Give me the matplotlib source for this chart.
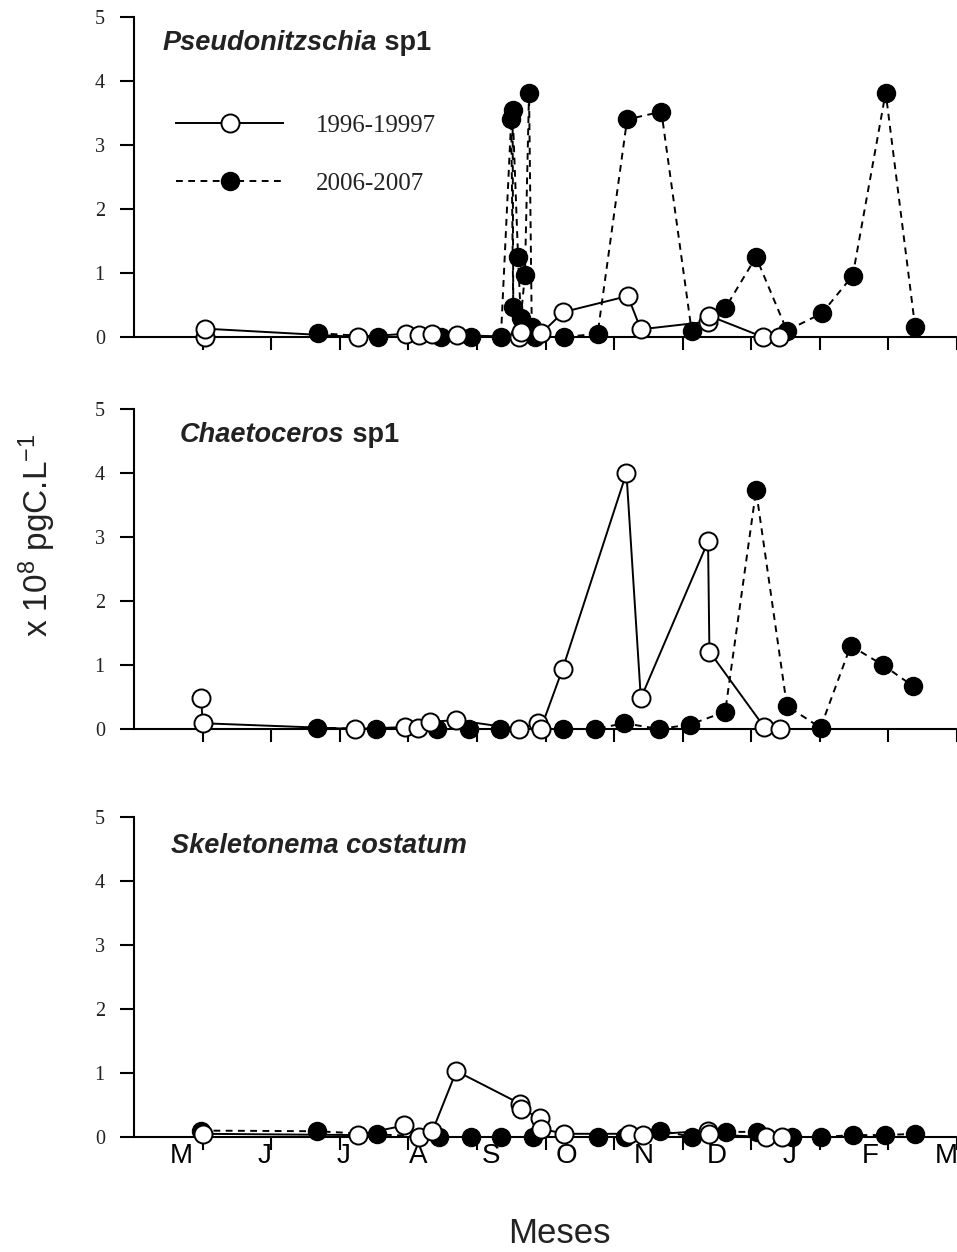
import matplotlib
matplotlib.use("Agg")
import matplotlib.pyplot as plt
from matplotlib.lines import Line2D

plt.rcParams["mathtext.fontset"] = "custom"
plt.rcParams["mathtext.rm"] = "Liberation Sans"
plt.rcParams["mathtext.it"] = "Liberation Sans:italic"
plt.rcParams["mathtext.bf"] = "Liberation Sans:bold"

# ---------------- data (x in months from first sampling tick) ----------------
months = ["M", "J", "J", "A", "S", "O", "N", "D", "J", "F", "M"]
month_label_pos = [-0.31, 0.90, 2.05, 3.14, 4.20, 5.30, 6.43, 7.50, 8.56, 9.74, 10.84]
x_ticks = list(range(0, 12))
y_ticks = [0, 1, 2, 3, 4, 5]

titles = [("Pseudonitzschia", " sp1"), ("Chaetoceros", " sp1"), ("Skeletonema costatum", "")]
series_labels = ["1996-19997", "2006-2007"]

# Pseudonitzschia sp1
p1_old_x = [0.04, 0.04, 2.26, 2.96, 3.16, 3.35, 3.71, 4.62, 4.64, 4.94, 5.26, 6.20, 6.39, 7.37, 7.39, 8.17, 8.40]
p1_old_y = [0.0, 0.13, 0.0, 0.05, 0.03, 0.04, 0.03, 0.0, 0.08, 0.06, 0.39, 0.64, 0.12, 0.24, 0.33, 0.0, 0.0]
p1_new_x = [1.69, 2.56, 3.47, 3.92, 4.35, 4.50, 4.53, 4.52, 4.60, 4.64, 4.70, 4.76, 4.80, 4.84, 5.27, 5.76,
            6.19, 6.69, 7.13, 7.62, 8.07, 8.52, 9.03, 9.48, 9.96, 10.39]
p1_new_y = [0.06, 0.0, 0.0, 0.0, 0.0, 3.40, 0.47, 3.55, 1.25, 0.30, 0.97, 3.82, 0.15, 0.0, 0.0, 0.05,
            3.40, 3.52, 0.10, 0.45, 1.25, 0.10, 0.37, 0.96, 3.82, 0.15]

# Chaetoceros sp1
p2_old_x = [-0.02, 0.0, 2.22, 2.95, 3.14, 3.32, 3.69, 4.61, 4.89, 4.93, 5.25, 6.18, 6.39, 7.37, 7.39, 8.19, 8.42]
p2_old_y = [0.49, 0.09, 0.0, 0.03, 0.01, 0.11, 0.14, 0.0, 0.09, 0.0, 0.94, 4.0, 0.48, 2.93, 1.21, 0.03, 0.0]
p2_new_x = [1.67, 2.53, 3.42, 3.89, 4.33, 5.25, 5.72, 6.15, 6.66, 7.11, 7.62, 8.07, 8.52, 9.01, 9.45, 9.92, 10.36]
p2_new_y = [0.02, 0.0, 0.0, 0.0, 0.0, 0.0, 0.0, 0.09, 0.0, 0.07, 0.27, 3.73, 0.36, 0.02, 1.30, 1.0, 0.67]

# Skeletonema costatum
p3_old_x = [0.0, 2.26, 2.94, 3.15, 3.35, 3.70, 4.63, 4.65, 4.92, 4.94, 5.27, 6.22, 6.42, 7.37, 7.39, 8.21, 8.45]
p3_old_y = [0.05, 0.03, 0.18, 0.0, 0.09, 1.03, 0.52, 0.44, 0.29, 0.13, 0.05, 0.05, 0.03, 0.10, 0.04, 0.0, 0.0]
p3_new_x = [-0.02, 1.67, 2.55, 3.44, 3.91, 4.35, 4.82, 5.76, 6.16, 6.67, 7.14, 7.63, 8.08, 8.59, 9.02, 9.49, 9.95, 10.39]
p3_new_y = [0.10, 0.09, 0.04, 0.0, 0.0, 0.0, 0.0, 0.0, 0.0, 0.10, 0.0, 0.08, 0.08, 0.0, 0.0, 0.03, 0.03, 0.05]

panels = [
    (p1_old_x, p1_old_y, p1_new_x, p1_new_y),
    (p2_old_x, p2_old_y, p2_new_x, p2_new_y),
    (p3_old_x, p3_old_y, p3_new_x, p3_new_y),
]

# ---------------- figure ----------------
W, H = 957, 1252
fig = plt.figure(figsize=(W / 100, H / 100), dpi=100)

serif = ["Liberation Serif", "DejaVu Serif"]
sans = ["Liberation Sans", "DejaVu Sans"]

ax_left_px, ax_right_px = 134, 957
panel_px = [(17, 337), (409, 729), (817, 1137)]  # (top, bottom) in pixels
title_pos = [(0.035, 0.897), (0.056, 0.897), (0.045, 0.8875)]

old_style = dict(color="black", lw=1.4, ls="-", marker="o", ms=13,
                 mfc="white", mec="black", mew=1.4, clip_on=False, zorder=4)
new_style = dict(color="black", lw=1.4, ls=(0, (3.5, 2.8)), marker="o", ms=13,
                 mfc="black", mec="black", mew=1.0, clip_on=False, zorder=3)

axes = []
for i, ((top, bot), (ox, oy, nx, ny)) in enumerate(zip(panel_px, panels)):
    ax = fig.add_axes([ax_left_px / W, 1 - bot / H, (ax_right_px - ax_left_px) / W, (bot - top) / H])
    ax.plot(nx, ny, **new_style)
    ax.plot(ox, oy, **old_style)
    ax.set_xlim(-1.0, 11.0)
    ax.set_ylim(0, 5)
    ax.set_xticks(x_ticks)
    ax.set_xticklabels([])
    ax.set_yticks(y_ticks)
    ax.set_yticklabels([str(v) for v in y_ticks], family=serif, fontsize=14.5, color="#222222")
    for s in ["top", "right"]:
        ax.spines[s].set_visible(False)
    for s in ["left", "bottom"]:
        ax.spines[s].set_linewidth(1.5)
    ax.tick_params(axis="y", direction="out", length=10, width=1.5, pad=11)
    ax.tick_params(axis="x", direction="out", length=9, width=1.5)
    ax.patch.set_alpha(0)

    name, suffix = titles[i]
    tx, ty = title_pos[i]
    t1 = ax.text(tx, ty, name, transform=ax.transAxes, family=sans, fontsize=19.5,
                 fontweight="bold", fontstyle="italic", color="#222222", va="baseline", ha="left")
    if suffix:
        ax.annotate(suffix, xy=(1, 0), xycoords=t1, va="bottom", ha="left",
                    family=sans, fontsize=19.5, fontweight="bold", color="#222222")
    axes.append(ax)

# legend in first panel
handles = [Line2D([], [], **{k: v for k, v in old_style.items() if k not in ("clip_on", "zorder")}),
           Line2D([], [], **{k: v for k, v in new_style.items() if k not in ("clip_on", "zorder")})]
leg = axes[0].legend(handles, series_labels, loc="upper left", bbox_to_anchor=(0.051, 0.695),
                     frameon=False, numpoints=1, handlelength=4.3, handletextpad=1.3,
                     labelspacing=1.4, borderaxespad=0, borderpad=0,
                     prop={"family": serif, "size": 18})
for t in leg.get_texts():
    t.set_color("#222222")

# month labels under bottom panel
for lab, pos in zip(months, month_label_pos):
    axes[2].text(pos, -0.019, lab, transform=axes[2].get_xaxis_transform(), ha="center", va="top",
                 family=sans, fontsize=20, color="black")

fig.text(559 / W, 1 - 1243 / H, "Meses", ha="center", va="baseline", family=sans, fontsize=25,
         color="#222222")
fig.text(37 / W, 1 - 535 / H, r"x 10$^{8}$ pgC.L$^{-1}$", rotation=90, ha="center", va="center",
         family=sans, fontsize=24, color="#222222")

fig.savefig("out.png", dpi=100)
